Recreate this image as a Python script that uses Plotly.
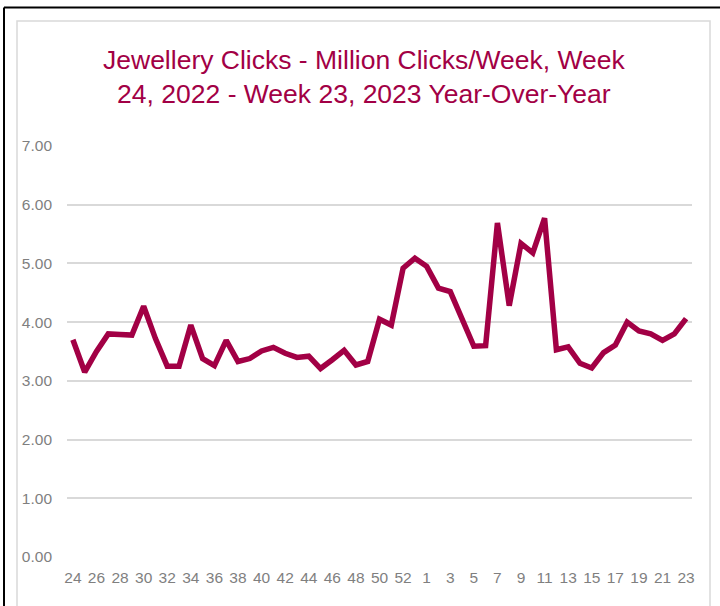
import plotly.graph_objects as go

# Week labels: week 24 of 2022 through week 23 of 2023 (2022 data includes a week 53 slot)
weeks = [str(w) for w in range(24, 54)] + [str(w) for w in range(1, 24)]
clicks = [
    3.70, 3.15, 3.50, 3.80, 3.79, 3.78, 4.27, 3.72, 3.25, 3.25,
    3.95, 3.38, 3.26, 3.69, 3.33, 3.38, 3.51, 3.57, 3.47, 3.40,
    3.42, 3.21, 3.36, 3.52, 3.27, 3.33, 4.05, 3.95, 4.92, 5.09,
    4.95, 4.58, 4.52, 4.05, 3.59, 3.60, 5.69, 4.28, 5.34, 5.18,
    5.77, 3.53, 3.58, 3.30, 3.22, 3.48, 3.61, 4.00, 3.85, 3.80,
    3.69, 3.80, 4.06,
]
tick_labels = weeks[::2]
y_ticks = [0, 1, 2, 3, 4, 5, 6, 7]
title_text = "Jewellery Clicks - Million Clicks/Week, Week<br>24, 2022 - Week 23, 2023 Year-Over-Year"

LINE_COLOR = "#A20045"
L, R, T, B = 67, 28, 146, 49
W, H = 720, 606
pw, ph = W - L - R, H - T - B

def px(x):
    return (x - L) / pw

def py(y):
    return (H - B - y) / ph

fig = go.Figure()
fig.add_trace(go.Scatter(
    x=weeks, y=clicks, mode="lines",
    line=dict(color=LINE_COLOR, width=5.5),
    hoverinfo="skip", showlegend=False,
))

fig.update_layout(
    width=W, height=H,
    margin=dict(l=L, r=R, t=T, b=B),
    paper_bgcolor="white", plot_bgcolor="white",
    font=dict(family="Liberation Sans, Arial, sans-serif", color="#7F7F7F"),
    xaxis=dict(
        type="category", range=[-0.5, len(weeks) - 0.5],
        tickmode="array", tickvals=tick_labels, ticktext=tick_labels,
        showgrid=False, zeroline=False, showline=False, ticks="",
        tickfont=dict(size=15.5, color="#7F7F7F"),
        ticklabelstandoff=9,
    ),
    yaxis=dict(
        range=[0, 7], tickvals=y_ticks,
        ticktext=[f"{v:.2f}" for v in y_ticks],
        showgrid=True, gridcolor="#D9D9D9", gridwidth=1.5,
        zeroline=False, showline=False, ticks="",
        tickfont=dict(size=15.5, color="#7F7F7F"),
        ticklabelstandoff=14,
    ),
    annotations=[dict(
        text=title_text, xref="paper", yref="paper",
        x=px(364), y=py(77), xanchor="center", yanchor="middle",
        showarrow=False, align="center",
        font=dict(size=26.5, color=LINE_COLOR, family="Liberation Sans, Arial, sans-serif"),
    )],
    shapes=[
        dict(type="rect", xref="paper", yref="paper",
             x0=px(17), x1=px(710), y0=py(615), y1=py(21),
             line=dict(color="#D9D9D9", width=1.5), layer="below"),
        dict(type="line", xref="paper", yref="paper",
             x0=px(4), x1=px(725), y0=py(7.5), y1=py(7.5),
             line=dict(color="black", width=2)),
        dict(type="line", xref="paper", yref="paper",
             x0=px(4), x1=px(4), y0=py(7.5), y1=py(615),
             line=dict(color="black", width=2)),
    ],
)

fig.write_html("out.html")
